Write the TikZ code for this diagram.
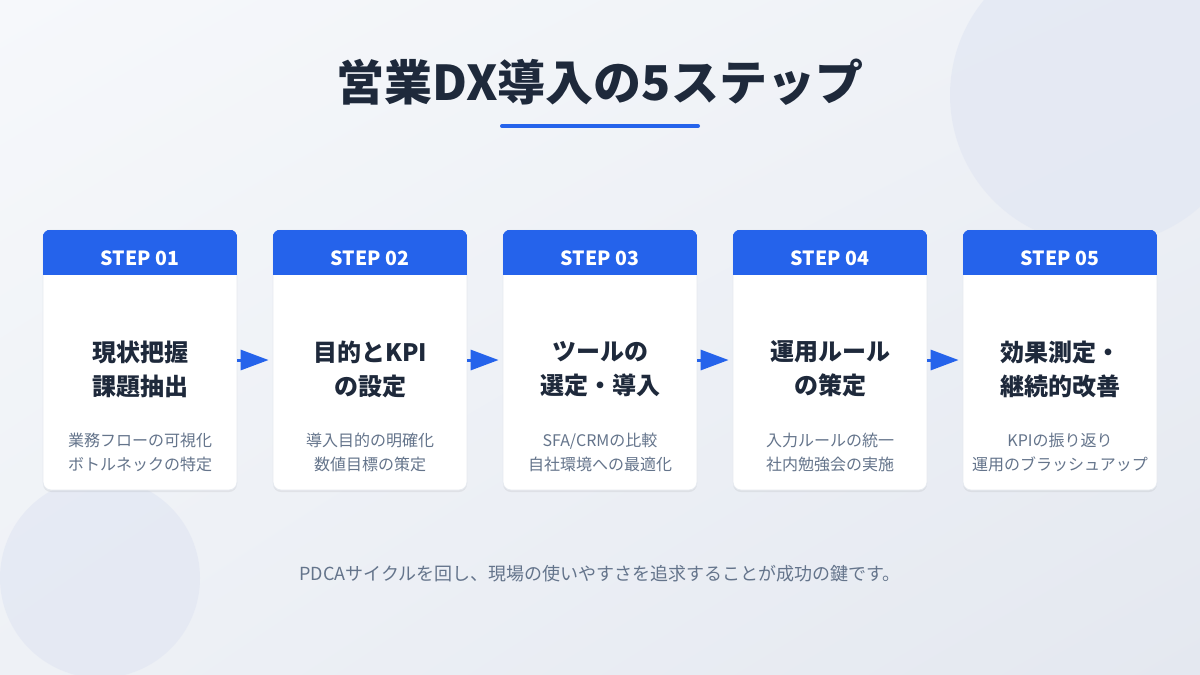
\documentclass[tikz,border=0pt]{standalone}
\usepackage{fontspec}
\setmainfont{Noto Sans CJK JP}
\usetikzlibrary{arrows.meta,shadows,shadings}
\definecolor{bgA}{HTML}{F6F8FB}
\definecolor{bgM}{HTML}{EEF1F6}
\definecolor{bgB}{HTML}{E4E8F0}
\definecolor{circ}{HTML}{E2E7F3}
\definecolor{stepblue}{HTML}{2563EB}
\definecolor{ink}{HTML}{1E293B}
\definecolor{muted}{HTML}{64748B}
\definecolor{edge}{HTML}{E6EAF0}
\tikzset{
  card/.style={fill=white, draw=edge, line width=0.8pt, rounded corners=8pt, minimum width=194pt, minimum height=260pt, inner sep=0pt,
    drop shadow={shadow xshift=0pt, shadow yshift=-2pt, opacity=0.06, fill=black}},
  hdr/.style={fill=stepblue, minimum width=194pt, minimum height=45pt, inner sep=0pt, text=white,
    text height=25pt, text depth=0pt,
    font=\fontsize{19.5}{22}\selectfont\bfseries},
  ttl/.style={align=center, text=ink, font=\fontsize{24}{34}\selectfont\bfseries},
  dsc/.style={align=center, text=muted, font=\fontsize{16}{24}\selectfont},
  arr/.style={draw=stepblue, line width=3pt, -{Triangle[length=28pt,width=20pt]}, shorten >=4pt}
}
\begin{document}
\begin{tikzpicture}[x=1pt,y=-1pt]
\useasboundingbox (0,0) rectangle (1200,675);
\shade[upper left=bgA, upper right=bgM, lower left=bgM, lower right=bgB] (0,0) rectangle (1200,675);
\fill[circ, opacity=0.7] (1100,95) circle (150pt);
\fill[circ, opacity=0.7] (100,578) circle (100pt);

\node[font=\fontsize{48}{54}\selectfont\bfseries, text=ink] (title) at (600,82) {営業DX導入の5ステップ};
\draw[stepblue, line width=4pt, line cap=round] (502,126) -- (698,126);

\foreach \i/\x/\t/\d in {
  1/140/{現状把握\\課題抽出}/{業務フローの可視化\\ボトルネックの特定},
  2/370/{目的とKPI\\の設定}/{導入目的の明確化\\数値目標の策定},
  3/600/{ツールの\\選定・導入}/{SFA/CRMの比較\\自社環境への最適化},
  4/830/{運用ルール\\の策定}/{入力ルールの統一\\社内勉強会の実施},
  5/1060/{効果測定・\\継続的改善}/{KPIの振り返り\\運用のブラッシュアップ}} {
  \node[card] (c\i) at (\x,360) {};
  \begin{scope}
    \clip[rounded corners=8pt] (c\i.south west) rectangle (c\i.north east);
    \node[hdr] (h\i) at (\x,252.5) {STEP 0\i};
  \end{scope}
  \node[ttl] (t\i) at (\x,369) {\t};
  \node[dsc] (d\i) at (\x,452) {\d};
}
\foreach \i/\j in {1/2,2/3,3/4,4/5} {
  \draw[arr] (c\i.east) -- (c\j.west);
}

\node[text=muted, font=\fontsize{18}{20}\selectfont] (note) at (600,574) {PDCAサイクルを回し、現場の使いやすさを追求することが成功の鍵です。};
\end{tikzpicture}
\end{document}
